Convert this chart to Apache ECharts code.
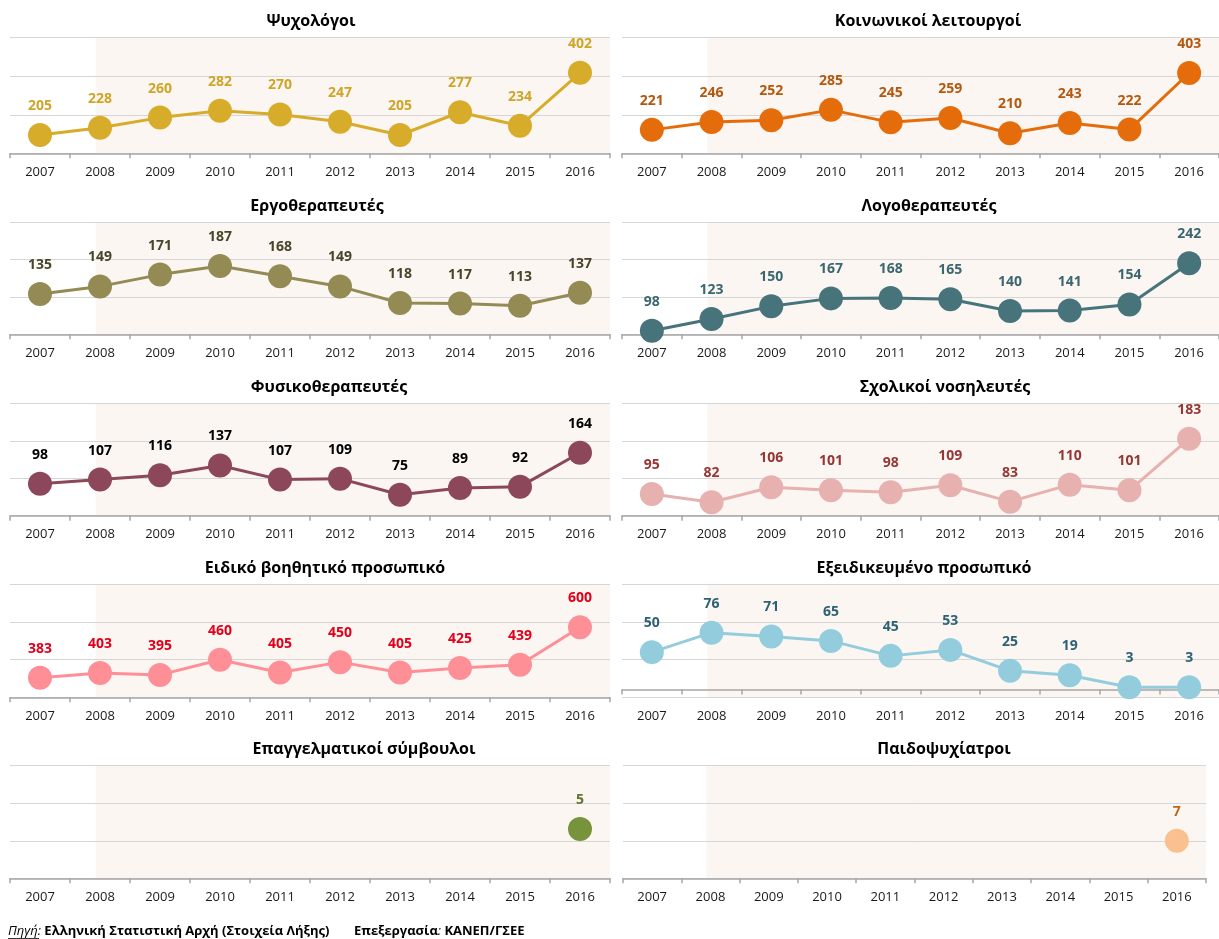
<!DOCTYPE html>
<html>
<head>
<meta charset="utf-8">
<script src="https://cdn.jsdelivr.net/npm/echarts@6/dist/echarts.min.js"></script>
<style>
  html, body { margin: 0; padding: 0; background: #ffffff; }
  #chart { width: 1219px; height: 939px; }
</style>
</head>
<body>
<div id="chart"></div>
<script>
// ---------- DATA ----------
const years = ['2007', '2008', '2009', '2010', '2011', '2012', '2013', '2014', '2015', '2016'];

const titles = [
  'Ψυχολόγοι', 'Κοινωνικοί λειτουργοί',
  'Εργοθεραπευτές', 'Λογοθεραπευτές',
  'Φυσικοθεραπευτές', 'Σχολικοί νοσηλευτές',
  'Ειδικό βοηθητικό προσωπικό', 'Εξειδικευμένο προσωπικό',
  'Επαγγελματικοί σύμβουλοι', 'Παιδοψυχίατροι'
];

const psychologists          = [205, 228, 260, 282, 270, 247, 205, 277, 234, 402];
const socialWorkers          = [221, 246, 252, 285, 245, 259, 210, 243, 222, 403];
const occupationalTherapists = [135, 149, 171, 187, 168, 149, 118, 117, 113, 137];
const speechTherapists       = [98, 123, 150, 167, 168, 165, 140, 141, 154, 242];
const physiotherapists       = [98, 107, 116, 137, 107, 109, 75, 89, 92, 164];
const schoolNurses           = [95, 82, 106, 101, 98, 109, 83, 110, 101, 183];
const specialAssistants      = [383, 403, 395, 460, 405, 450, 405, 425, 439, 600];
const specializedStaff       = [50, 76, 71, 65, 45, 53, 25, 19, 3, 3];
const careerCounselors       = [null, null, null, null, null, null, null, null, null, 5];
const childPsychiatrists     = [null, null, null, null, null, null, null, null, null, 7];

const seriesData = [
  psychologists, socialWorkers,
  occupationalTherapists, speechTherapists,
  physiotherapists, schoolNurses,
  specialAssistants, specializedStaff,
  careerCounselors, childPsychiatrists
];

// ---------- STYLE / LAYOUT ----------
const markerColors = ['#D7AC2A', '#E46C0A', '#948A54', '#47737B', '#8C475B',
                      '#E6B1AF', '#FF8F97', '#93CDDD', '#77933C', '#FAC08F'];
const labelColors  = ['#CFA528', '#B3590F', '#4A452A', '#3B6770', '#000000',
                      '#953735', '#E0001B', '#2D6274', '#5F7530', '#C0661A'];
const yRanges = [[147, 513], [146, 516], [59.7, 268.5], [90.3, 329.5], [30.5, 268.7],
                 [60.7, 239.2], [298.6, 785.2], [-10.4, 140.7], [0, 11.4], [0, 21]];
const rowTops    = [37.7, 222.3, 403.3, 584.3, 765.7];
const rowBottoms = [153.3, 334.3, 515.7, 697.3, 878.3];
const titleCenters = [311, 928, 317, 929, 329, 945, 325, 924, 364, 944];
const shadeStart = 1.43; // in category-width units from the left edge

const FONT = '"Open Sans", "Noto Sans", sans-serif';

const grids = [], xAxes = [], yAxes = [], series = [], graphics = [];

for (let i = 0; i < 10; i++) {
  const row = Math.floor(i / 2), col = i % 2;
  let left, width;
  if (col === 0) { left = 10; width = 600; }
  else if (row < 4) { left = 622; width = 598; }
  else { left = 623; width = 583; }
  const top = rowTops[row];
  const height = rowBottoms[row] - rowTops[row];
  grids.push({ left: left, top: top, width: width, height: height, containLabel: false });

  // category axis (visible)
  xAxes.push({
    type: 'category', gridIndex: i, data: years, boundaryGap: true, z: 1.5,
    axisLine: { show: true, lineStyle: { color: '#A6A6A6', width: 1.5 } },
    axisTick: { show: true, interval: 0, length: 5, lineStyle: { color: '#A6A6A6', width: 1.5 } },
    axisLabel: { interval: 0, color: '#1a1a1a', fontSize: 13, fontFamily: FONT, margin: 12 },
    splitLine: { show: false }
  });
  // hidden value axis for shading
  xAxes.push({ type: 'value', gridIndex: i, min: 0, max: 10, show: false });

  // data y axis (hidden)
  yAxes.push({ type: 'value', gridIndex: i, min: yRanges[i][0], max: yRanges[i][1], show: false });
  // decorative y axis for gridlines
  yAxes.push({
    type: 'value', gridIndex: i, min: 0, max: 3, interval: 1, z: 1.2,
    axisLine: { show: false }, axisTick: { show: false }, axisLabel: { show: false },
    splitLine: { show: true, lineStyle: { color: '#D6D6D6', width: 1 } }
  });

  // shading series
  series.push({
    type: 'line', xAxisIndex: 2 * i + 1, yAxisIndex: 2 * i + 1,
    data: [], silent: true, z: -1,
    markArea: {
      silent: true, z: -1,
      itemStyle: { color: '#FBF6F2' },
      data: [[{ coord: [shadeStart, 0] }, { coord: [10, 3] }]]
    }
  });

  // data series
  series.push({
    type: 'line', xAxisIndex: 2 * i, yAxisIndex: 2 * i,
    data: seriesData[i],
    symbol: 'circle', symbolSize: 24, showSymbol: true, showAllSymbol: true,
    connectNulls: false,
    lineStyle: { color: markerColors[i], width: 3 },
    itemStyle: { color: markerColors[i] },
    label: {
      show: true, position: 'top', distance: 10,
      color: labelColors[i], fontSize: 14, fontWeight: 'bold', fontFamily: FONT
    },
    z: 3
  });

  graphics.push({
    type: 'text', x: titleCenters[i], y: top - 16,
    style: {
      text: titles[i], fill: '#000', font: 'bold 16px ' + FONT,
      align: 'center', verticalAlign: 'middle'
    }
  });
}

// footer
graphics.push({
  type: 'text', x: 8, y: 931,
  style: {
    text: '{i|Πηγή:} {b|Ελληνική Στατιστική Αρχή (Στοιχεία Λήξης)}',
    verticalAlign: 'middle',
    rich: {
      i: { fontStyle: 'italic', fontSize: 13, fontFamily: FONT, fill: '#000' },
      b: { fontWeight: 'bold', fontSize: 13, fontFamily: FONT, fill: '#000' }
    }
  }
});
graphics.push({
  type: 'line', shape: { x1: 8, y1: 938.5, x2: 39, y2: 938.5 },
  style: { stroke: '#000', lineWidth: 0.8 }
});
graphics.push({
  type: 'text', x: 354, y: 931,
  style: {
    text: '{b|Επεξεργασία}{i|:} {b|ΚΑΝΕΠ/ΓΣΕΕ}',
    verticalAlign: 'middle',
    rich: {
      i: { fontStyle: 'italic', fontSize: 13, fontFamily: FONT, fill: '#000' },
      b: { fontWeight: 'bold', fontSize: 13, fontFamily: FONT, fill: '#000' }
    }
  }
});

const chart = echarts.init(document.getElementById('chart'), null, { renderer: 'canvas' });
chart.setOption({
  backgroundColor: '#ffffff',
  animation: false,
  grid: grids,
  xAxis: xAxes,
  yAxis: yAxes,
  series: series,
  graphic: graphics
});
</script>
</body>
</html>
